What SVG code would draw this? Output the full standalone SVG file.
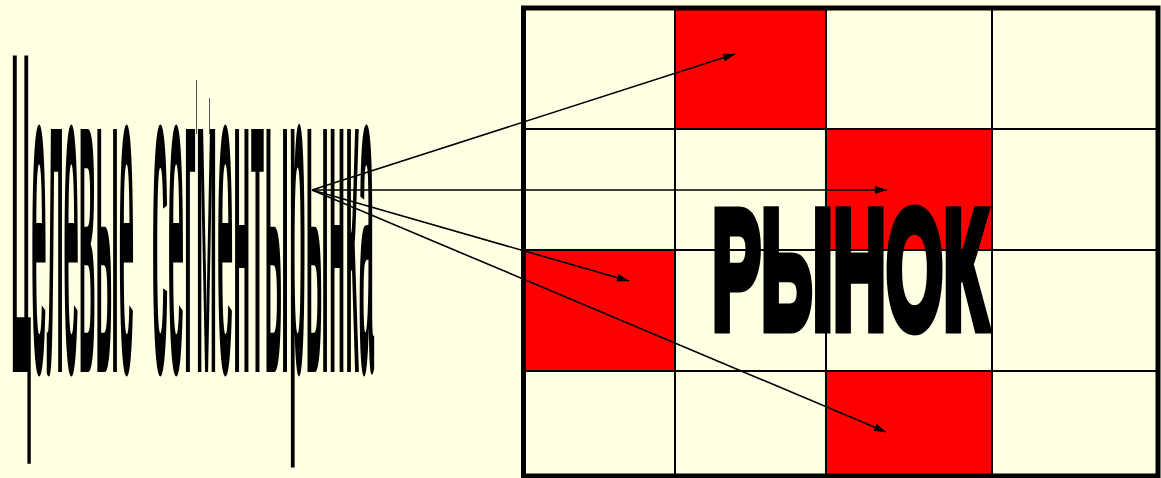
<svg xmlns="http://www.w3.org/2000/svg" width="1161" height="478" viewBox="0 0 1161 478">
<defs>
<style>
.bg{fill:#FFFFE3}
.red{fill:#FF0000}
.grid{stroke:#000;stroke-width:2;fill:none}
.border{stroke:#000;stroke-width:5;fill:none}
.title{font-family:"Liberation Sans",Arial,sans-serif;font-weight:bold;font-size:460px;fill:#000}
.big{font-family:"Liberation Sans",Arial,sans-serif;font-weight:bold;font-size:168px;fill:#000;stroke:#000;stroke-width:11;stroke-linejoin:miter}
.conn{stroke:#000;stroke-width:1.6;fill:none;marker-end:url(#ah)}
</style>
<marker id="ah" viewBox="0 0 12 8" refX="12" refY="4" markerWidth="12" markerHeight="8" markerUnits="userSpaceOnUse" orient="auto">
<path d="M0,0 L12,4 L0,8 Z" fill="#000"/>
</marker>
</defs>
<rect class="bg" x="0" y="0" width="1161" height="478"/>
<g id="market">
<rect class="red" x="675" y="8" width="151" height="121"/>
<rect class="red" x="826" y="129" width="166" height="121"/>
<rect class="red" x="524" y="250" width="151" height="121"/>
<rect class="red" x="826" y="371" width="166" height="105"/>
<path class="grid" d="M675,8V476 M826,8V476 M992,8V476 M524,129H1158 M524,250H1158 M524,371H1158"/>
<rect class="border" x="523.5" y="8" width="634.5" height="468"/>
<text class="big" x="712" y="328" textLength="276" lengthAdjust="spacingAndGlyphs">РЫНОК</text>
</g>
<g id="title">
<text class="title" x="11" y="372" textLength="123" lengthAdjust="spacingAndGlyphs">Целевые</text>
<text class="title" x="152" y="372" textLength="137" lengthAdjust="spacingAndGlyphs">сегменты</text>
<text class="title" x="289" y="372" textLength="85" lengthAdjust="spacingAndGlyphs">рынка</text>
<path d="M196.5,80V134 M209.5,98V134" stroke="#555" stroke-width="1"/>
</g>
<g id="connectors">
<line class="conn" x1="312" y1="190" x2="735" y2="54"/>
<line class="conn" x1="312" y1="190" x2="887" y2="190"/>
<line class="conn" x1="312" y1="190" x2="629" y2="281"/>
<line class="conn" x1="312" y1="190" x2="886" y2="432"/>
</g>
</svg>
